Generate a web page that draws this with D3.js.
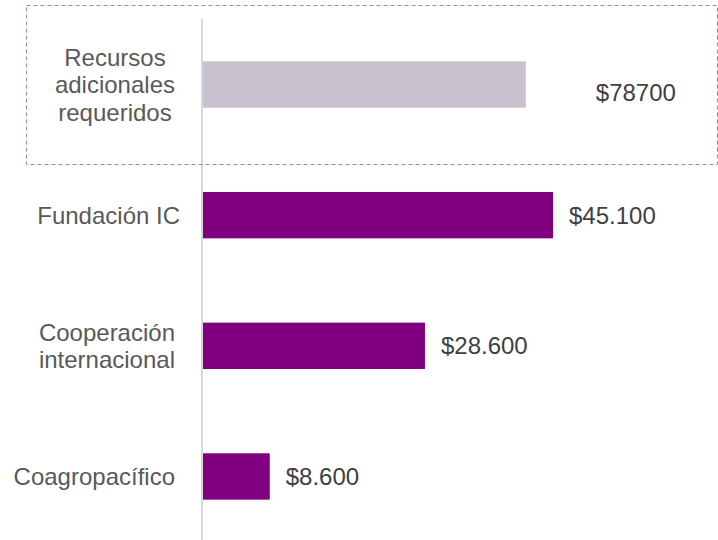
<!DOCTYPE html>
<html>
<head>
<meta charset="utf-8">
<script src="https://cdn.jsdelivr.net/npm/d3@7"></script>
<style>
  body { margin: 0; background: #fff; }
  svg { display: block; font-family: "Liberation Sans", Arial, sans-serif; }
</style>
</head>
<body>
<svg id="chart" width="718" height="540"></svg>
<script>
// categories (line breaks as in the reference)
const categories = ['Recursos\nadicionales\nrequeridos', 'Fundación IC', 'Cooperación\ninternacional', 'Coagropacífico'];
// bar lengths as drawn (first bar is a highlighted "required" bar, not to scale with its label)
const barValues = [41600, 45100, 28600, 8600];
const valueLabels = ['$78700', '$45.100', '$28.600', '$8.600'];

const width = 718, height = 540;
const svg = d3.select('#chart');

const y = d3.scaleBand()
    .domain(categories)
    .range([19, 542])
    .paddingInner(0.645)
    .paddingOuter(0.324);

const x = d3.scaleLinear()
    .domain([0, d3.max(barValues)])
    .range([203, 553]);

const data = categories.map((c, i) => ({ cat: c, value: barValues[i], label: valueLabels[i], i }));

// vertical axis line
svg.append('line')
    .attr('x1', 202).attr('x2', 202)
    .attr('y1', 19).attr('y2', height)
    .attr('stroke', '#d9d9d9')
    .attr('stroke-width', 2);

// bars
svg.selectAll('rect.bar')
    .data(data)
    .join('rect')
    .attr('class', 'bar')
    .attr('x', x(0))
    .attr('y', d => y(d.cat))
    .attr('width', d => x(d.value) - x(0))
    .attr('height', y.bandwidth())
    .attr('fill', d => d.i === 0 ? '#c8c2d0' : '#800080');

// dashed highlight box around the first row
const c0 = y(categories[0]) + y.bandwidth() / 2;
const boxTop = Math.round(c0 - 80) + 0.5;
svg.append('rect')
    .attr('x', 26.5)
    .attr('y', boxTop)
    .attr('width', 691)
    .attr('height', 159)
    .attr('fill', 'none')
    .attr('stroke', '#a47cc6')
    .attr('stroke-width', 1)
    .attr('stroke-dasharray', '4,3');

// category labels, centered lines, block right edge near the axis
const lineH = 27.5;
const labels = svg.selectAll('g.cat')
    .data(data)
    .join('g')
    .attr('class', 'cat');

labels.each(function(d) {
    const lines = d.cat.split('\n');
    const g = d3.select(this);
    const cy = y(d.cat) + y.bandwidth() / 2;
    // measure widest line to get the block centre
    const tmp = g.append('text').attr('font-size', '24px');
    let maxW = 0;
    lines.forEach(l => { tmp.text(l); maxW = Math.max(maxW, tmp.node().getComputedTextLength()); });
    tmp.remove();
    const right = lines.length === 1 && d.i === 1 ? 180 : 175;
    const cx = right - maxW / 2;
    lines.forEach((l, k) => {
        g.append('text')
            .attr('x', cx)
            .attr('y', cy + 8.5 + (k - (lines.length - 1) / 2) * lineH)
            .attr('text-anchor', 'middle')
            .attr('font-size', '24px')
            .attr('fill', '#595959')
            .text(l);
    });
});

// value labels
svg.selectAll('text.val')
    .data(data)
    .join('text')
    .attr('class', 'val')
    .attr('x', d => d.i === 0 ? x(d.value) + 70 : x(d.value) + 16)
    .attr('y', d => y(d.cat) + y.bandwidth() / 2 + 8.5 + (d.i === 0 ? 8 : 0))
    .attr('font-size', '24px')
    .attr('fill', '#404040')
    .text(d => d.label);
</script>
</body>
</html>
